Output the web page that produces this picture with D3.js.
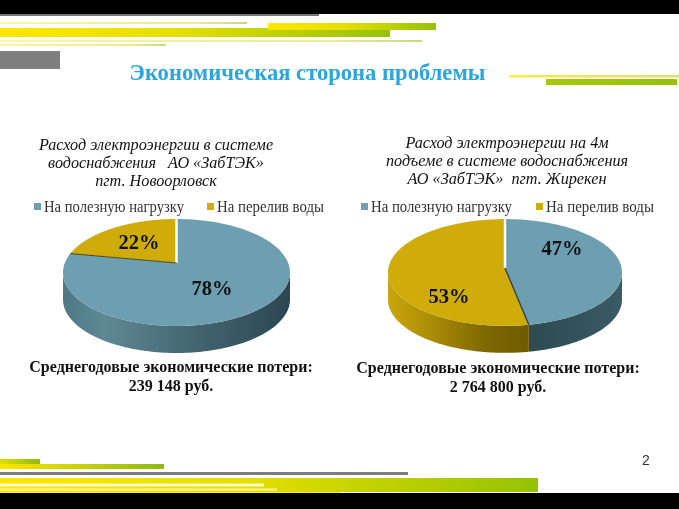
<!DOCTYPE html>
<html><head><meta charset="utf-8">
<style>html,body{margin:0;padding:0;background:#fff}svg{display:block;filter:blur(0.4px)}</style>
<script src="https://cdn.jsdelivr.net/npm/d3@7/dist/d3.min.js"></script>
</head><body><svg id="c" width="679" height="509"></svg>
<script>
const seriesNames = ["На полезную нагрузку", "На перелив воды"];
const leftValues = [78, 22];
const rightValues = [47, 53];
const titleText = "Экономическая сторона проблемы";
const leftSubtitle = ["Расход электроэнергии в системе", "водоснабжения   АО «ЗабТЭК»", "пгт. Новоорловск"];
const rightSubtitle = ["Расход электроэнергии на 4м", "подъеме в системе водоснабжения", "АО «ЗабТЭК»  пгт. Жирекен"];
const leftLoss = ["Среднегодовые экономические потери:", "239 148 руб."];
const rightLoss = ["Среднегодовые экономические потери:", "2 764 800 руб."];

const svg = d3.select("#c");
const defs = svg.append("defs");
const serif = "'Liberation Serif','Times New Roman',serif";
let gid = 0;
function grad(stops, x1, x2) {
  const id = "g" + (gid++);
  const g = defs.append("linearGradient").attr("id", id).attr("gradientUnits", "userSpaceOnUse")
    .attr("x1", x1).attr("x2", x2).attr("y1", 0).attr("y2", 0);
  stops.forEach(s => g.append("stop").attr("offset", s[0]).attr("stop-color", s[1]));
  return `url(#${id})`;
}
function rect(x, y, w, h, fill) {
  svg.append("rect").attr("x", x).attr("y", y).attr("width", w).attr("height", h).attr("fill", fill);
}
const yg = [[0, "#ffe600"], [0.45, "#e6df00"], [1, "#95c205"]];
const pale = [[0, "#fbf6a0"], [0.8, "#eeea90"], [1, "#c8d880"]];

// top decoration
rect(0, 0, 679, 14, "#000");
rect(0, 14, 319, 2, "#777");
rect(0, 22, 247, 2, grad(pale, 0, 247));
rect(0, 28, 390, 9, grad(yg, 0, 390));
rect(268, 23, 168, 7, grad(yg, 268, 436));
rect(0, 40, 422, 2, grad(pale, 0, 422));
rect(0, 44, 166, 2, grad(pale, 0, 166));
rect(0, 51, 60, 18, "#7f7f7f");
rect(509, 75, 170, 2.5, grad([[0, "#ffe84a"], [1, "#d8e070"]], 509, 679));
rect(546, 79, 131, 6, grad([[0, "#a6c800"], [1, "#95c205"]], 546, 677));

// bottom decoration
rect(0, 459, 40, 5, grad([[0, "#e6df00"], [1, "#8dbb10"]], 0, 40));
rect(0, 464, 164, 5, grad([[0, "#ffe600"], [1, "#8dbb10"]], 0, 164));
rect(0, 472, 408, 3, "#7d7d7d");
rect(0, 478, 538, 14, grad([[0, "#ffe600"], [0.45, "#e6df00"], [1, "#95c205"]], 0, 538));
rect(0, 483.5, 264, 3, "#fdfbc8");
rect(0, 488.5, 277, 2, "#fbf59a");
rect(0, 492, 340, 1, "#f5ea40");
rect(0, 493, 679, 16, "#000");

function lines(arr, cx, ys, size, weight, style, color) {
  arr.forEach((t, i) => svg.append("text").attr("x", cx).attr("y", ys[i]).attr("text-anchor", "middle")
    .attr("xml:space", "preserve").style("white-space", "pre")
    .attr("font-family", serif).attr("font-size", size).attr("font-weight", weight)
    .attr("font-style", style).attr("fill", color).text(t));
}
lines([titleText], 307.5, [80], 22.6, "bold", "normal", "#2aa5dd");
lines(leftSubtitle, 156, [150, 168, 186], 16.2, "normal", "italic", "#111");
lines(rightSubtitle, 507, [148, 166, 184], 16.2, "normal", "italic", "#111");
lines(leftLoss, 171, [372, 391], 16, "bold", "normal", "#111");
lines(rightLoss, 498, [373, 392], 16, "bold", "normal", "#111");
svg.append("text").attr("x", 646).attr("y", 465).attr("text-anchor", "middle")
  .attr("font-family", "'Liberation Sans',Arial,sans-serif").attr("font-size", 14).attr("fill", "#333").text("2");

function pie3d(o) {
  const [blueSide, yellowSide] = [o.blueSide, o.yellowSide];
  const g = svg.append("g");
  const arcs = d3.pie().sort(null).value(d => d)(o.values);
  const P = th => {
    const den = 1 + o.k * Math.cos(th);
    return [o.cx + o.b * Math.sin(th) / den, o.cy - o.a * Math.cos(th) / den];
  };
  const line = d3.line();
  const sample = (a0, a1) => d3.range(0, 121).map(i => a0 + (a1 - a0) * i / 120);
  const vis0 = Math.acos(-o.k), vis1 = 2 * Math.PI - vis0;
  arcs.forEach((s, i) => {
    const a0 = Math.max(s.startAngle, vis0), a1 = Math.min(s.endAngle, vis1);
    if (a1 <= a0) return;
    const top = sample(a0, a1).map(P);
    const bottom = top.map(p => [p[0], p[1] + o.depth]).reverse();
    const xs = top.map(p => p[0]);
    const stops = i === 0 ? blueSide : yellowSide;
    g.append("path").attr("d", line(top.concat(bottom)) + "Z")
      .attr("fill", grad(stops, d3.max(xs), d3.min(xs)));
  });
  arcs.forEach((s, i) => {
    const pts = [[o.cx, o.cy]].concat(sample(s.startAngle, s.endAngle).map(P));
    g.append("path").attr("d", line(pts) + "Z").attr("fill", o.colors[i]);
  });
  // slice edges: white along the 12 o'clock cut, dark along the other
  g.append("path").attr("d", line([[o.cx, o.cy], P(0)])).attr("stroke", "#fff").attr("stroke-width", 2.5).attr("fill", "none");
  g.append("path").attr("d", line([[o.cx, o.cy], P(arcs[0].endAngle)])).attr("stroke", o.edge).attr("stroke-width", o.edgeW).attr("fill", "none");
  arcs.forEach((s, i) => g.append("text").attr("x", o.labels[i][0]).attr("y", o.labels[i][1]).attr("text-anchor", "middle")
    .attr("font-family", serif).attr("font-weight", "bold").attr("font-size", 20.5).attr("fill", "#111")
    .text(o.values[i] + "%"));
  // legend
  seriesNames.forEach((n, i) => {
    rect(o.legend[i][0], 203, 7, 7, o.colors[i]);
    svg.append("text").attr("x", o.legend[i][0] + 10).attr("y", 212).attr("font-family", serif).attr("font-size", 16)
      .attr("fill", "#333").attr("textLength", o.legendW[i]).attr("lengthAdjust", "spacingAndGlyphs").text(n);
  });
}
const colors = ["#6d9fb1", "#cfac0a"];
pie3d({ values: leftValues, cx: 176.5, cy: 263, a: 51.8, b: 111.7, k: 0.1776, depth: 27,
  colors, edge: "#4a4a20", edgeW: 1,
  blueSide: [[0, "#2c4650"], [0.45, "#456873"], [0.82, "#5f8895"], [1, "#4f7886"]],
  yellowSide: [[0, "#7a6400"], [1, "#a88c08"]],
  labels: [[212, 295], [139, 249]], legend: [[34, 203], [207, 203]], legendW: [140, 107] });
pie3d({ values: rightValues, cx: 505, cy: 268, a: 53, b: 116.6, k: 0.084, depth: 27,
  colors, edge: "#2f4a52", edgeW: 1.5,
  blueSide: [[0, "#3a5a64"], [1, "#2e4a52"]],
  yellowSide: [[0, "#6f5b00"], [0.3, "#7e6802"], [0.8, "#b69608"], [1, "#c9a60d"]],
  labels: [[562, 255], [449, 303]], legend: [[361, 203], [536, 203]], legendW: [141, 108] });
</script></body></html>
